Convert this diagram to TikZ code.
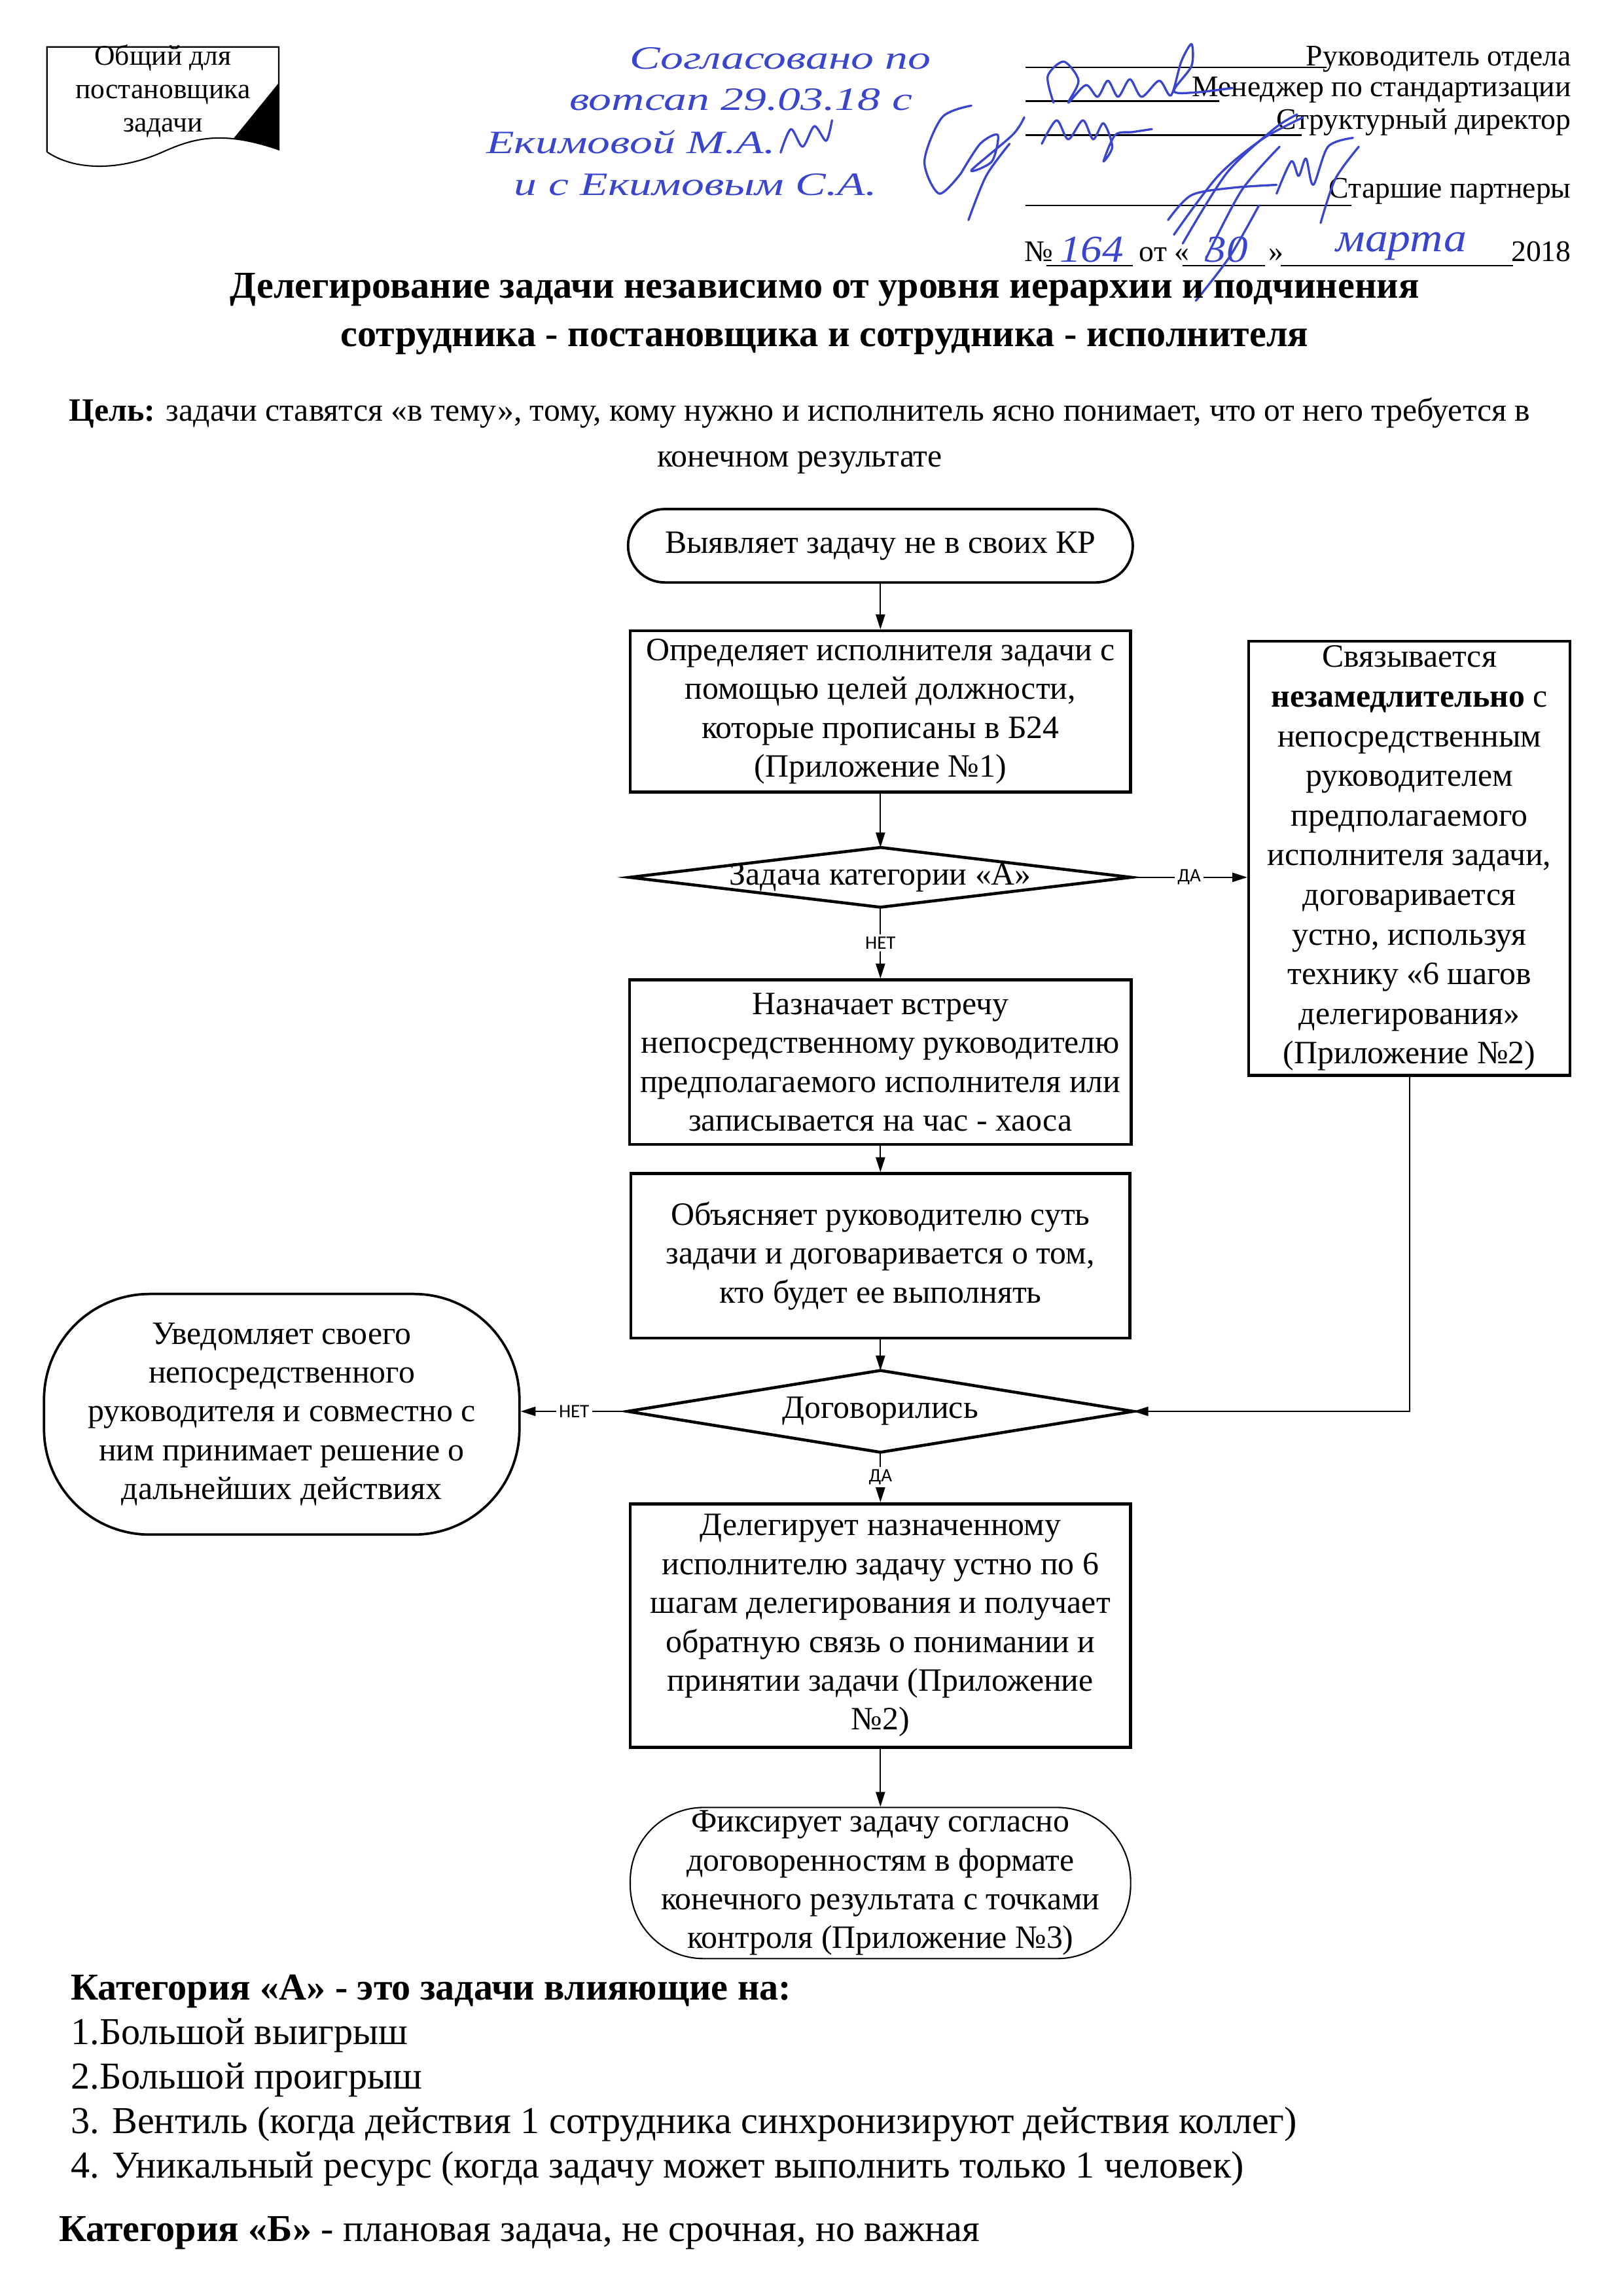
\documentclass[tikz,border=0pt]{standalone}
\usepackage{fontspec}
\setmainfont{Liberation Serif}
\newfontfamily\labelfont{Carlito}
\usetikzlibrary{positioning}
\usetikzlibrary{arrows.meta}
\usetikzlibrary{calc}
\tikzset{
  >={Triangle[length=5.5pt,width=3.4pt]}
}
\def\pxu{0.018987cm}

\begin{document}
\begin{tikzpicture}[x=0.018987cm,y=-0.018987cm]

            \useasboundingbox (0,0) rectangle (1106,1565);

            % COLORS
            \definecolor{edgecolor_flow}{rgb}{ 0 0 0 }
            \definecolor{inkcolor_sign}{rgb}{ 0.22 0.27 0.80 }

            % DEF STYLES
            \tikzstyle{boxstyle_flow} = [draw, line width=1.1pt, align=center, inner sep=0pt, font=\fontsize{12}{14.3}\selectfont]
            \tikzstyle{termstyle_flow} = [boxstyle_flow, rounded corners=25*\pxu]
            \tikzstyle{decisionstyle_flow} = [align=center, inner sep=0pt, font=\fontsize{12}{14.3}\selectfont]
            \tikzstyle{diamondline_flow} = [line width=1.1pt, line join=miter]
            \tikzstyle{edgestyle_flow} = [line width=0.5pt, color=edgecolor_flow]
            \tikzstyle{yesno_flow} = [fill=white, inner sep=1pt, font=\labelfont\fontsize{7}{8}\selectfont]
            \tikzstyle{ink_sign} = [line width=0.8pt, color=inkcolor_sign, line cap=round, line join=round]
            \tikzstyle{hand_sign} = [color=inkcolor_sign, inner sep=0pt, xscale=1.4, font=\itshape\fontsize{12}{12}\selectfont]
            \tikzstyle{post_sign} = [anchor=base east, inner sep=0pt, font=\fontsize{11}{13}\selectfont]

            % HEADER: DOCUMENT SHAPE
            \draw[line width=0.5pt] (32,103.5) -- (32,32) -- (190,32) -- (190,102)
              .. controls (150,88) and (130,95) .. (110,104)
              .. controls (80,117) and (50,116) .. (32,103.5);
            \fill (190,56.5) -- (159,94.6) -- (168,96) -- (180,99) -- (190,102) -- cycle;
            \node (doc_common) at (111,62) [align=center, inner sep=0pt, font=\fontsize{10.5}{12.2}\selectfont] {Общий для\\постановщика\\задачи};

            % HEADER: HANDWRITTEN NOTE
            \node (hand_1) at (532,40) [hand_sign] {Согласовано по};
            \node (hand_2) at (505,68) [hand_sign] {вотсап 29.03.18 с};
            \node (hand_3) at (430,97) [hand_sign] {Екимовой М.А.};
            \node (hand_4) at (474,126) [hand_sign] {и с Екимовым С.А.};

            % HEADER: POSTS
            \draw[line width=0.6pt] (699,46) -- (904,46);
            \node (post_1) at (1071,45) [post_sign] {Руководитель отдела};
            \draw[line width=0.6pt] (699,69) -- (831,69);
            \node (post_2) at (1071,66) [post_sign] {Менеджер по стандартизации};
            \draw[line width=0.6pt] (699,92) -- (887,92);
            \node (post_3) at (1071,88) [post_sign] {Структурный директор};
            \draw[line width=0.6pt] (699,140) -- (921,140);
            \node (post_4) at (1071,135) [post_sign] {Старшие партнеры};

            % HEADER: NUMBER AND DATE
            \node (num_sign) at (698,178) [anchor=base west, inner sep=0pt, font=\fontsize{11}{13}\selectfont] {№};
            \draw[line width=0.6pt] (713,181) -- (772,181);
            \node (num_from) at (776,178) [anchor=base west, inner sep=0pt, font=\fontsize{11}{13}\selectfont] {от «};
            \draw[line width=0.6pt] (806,181) -- (862,181);
            \node (num_quote) at (864,178) [anchor=base west, inner sep=0pt, font=\fontsize{11}{13}\selectfont] {»};
            \draw[line width=0.6pt] (873,181) -- (1031,181);
            \node (num_year) at (1071,178) [post_sign] {2018};
            \node (num_no) at (744,170) [hand_sign, xscale=0.8, font=\itshape\fontsize{14}{14}\selectfont] {164};
            \node (num_day) at (836,170) [hand_sign, xscale=0.8, font=\itshape\fontsize{14}{14}\selectfont] {30};
            \node (num_month) at (955,168) [hand_sign, xscale=0.8, font=\itshape\fontsize{15}{15}\selectfont] {марта};

            % HEADER: SIGNATURES
            \draw[ink_sign] plot[smooth] coordinates {(718,70) (714,52) (725,42) (735,55) (728,70) (740,58) (748,66) (755,55) (762,66) (770,54) (778,66) (790,55) (798,65) (805,42) (812,30) (812,45) (800,62) (815,63) (840,60)};
            \draw[ink_sign] plot[smooth] coordinates {(710,98) (720,82) (728,95) (738,82) (745,95) (752,84) (758,100) (752,110) (760,92) (772,90) (785,88)};
            \draw[ink_sign] plot[smooth] coordinates {(800,160) (830,120) (860,95) (888,80)};
            \draw[ink_sign] plot[smooth] coordinates {(796,150) (812,133) (840,128) (870,126)};
            \draw[ink_sign] plot[smooth] coordinates {(806,166) (836,118) (868,88) (884,78)};
            \draw[ink_sign] plot[smooth] coordinates {(822,176) (846,130) (872,100)};
            \draw[ink_sign] plot[smooth] coordinates {(858,140) (838,175) (815,205)};
            \draw[ink_sign] plot[smooth] coordinates {(870,132) (880,110) (885,120) (890,108) (895,126) (905,100) (922,94)};
            \draw[ink_sign] plot[smooth] coordinates {(900,152) (910,122) (926,100)};
            \draw[ink_sign] plot[smooth] coordinates {(662,72) (642,80) (630,110) (640,132) (655,118)};
            \draw[ink_sign] plot[smooth] coordinates {(655,118) (668,98) (680,92) (676,110) (662,116) (690,92) (698,80)};
            \draw[ink_sign] plot[smooth] coordinates {(660,150) (672,120) (688,98)};
            \draw[ink_sign] plot[smooth] coordinates {(532,104) (539,88) (547,100) (555,86) (563,96) (567,82)};

            % TITLE
            \node (title) at (562,214) [align=center, inner sep=0pt, font=\bfseries\fontsize{14}{17.8}\selectfont] {Делегирование задачи независимо от уровня иерархии и подчинения\\сотрудника - постановщика и сотрудника - исполнителя};
            \node (goal) at (545,297) [align=center, inner sep=0pt, font=\fontsize{12}{16.7}\selectfont] {\textbf{Цель:} задачи ставятся «в тему», тому, кому нужно и исполнитель ясно понимает, что от него требуется в\\конечном результате};

            % NODES
            \node (find) at (600,372) [termstyle_flow, line width=0.9pt, minimum width=344*\pxu, minimum height=50*\pxu] {Выявляет задачу не в своих КР};
            \node (define) at (600,485) [boxstyle_flow, minimum width=341*\pxu, minimum height=110*\pxu] {Определяет исполнителя задачи с\\помощью целей должности,\\которые прописаны в Б24\\(Приложение №1)};
            \node (catA) at (600,598) [decisionstyle_flow, minimum width=341*\pxu, minimum height=40*\pxu] {Задача категории «А»};
            \node (contact) at (960.5,585) [boxstyle_flow, minimum width=219*\pxu, minimum height=296*\pxu, font=\fontsize{12}{14.6}\selectfont] {Связывается\\\textbf{незамедлительно} с\\непосредственным\\руководителем\\предполагаемого\\исполнителя задачи,\\договаривается\\устно, используя\\технику «6 шагов\\делегирования»\\(Приложение №2)};
            \node (meet) at (600,724) [boxstyle_flow, minimum width=342*\pxu, minimum height=112*\pxu] {Назначает встречу\\непосредственному руководителю\\предполагаемого исполнителя или\\записывается на час - хаоса};
            \node (explain) at (600,856) [boxstyle_flow, minimum width=340*\pxu, minimum height=112*\pxu] {Объясняет руководителю суть\\задачи и договаривается о том,\\кто будет ее выполнять};
            \node (agreed) at (600,962) [decisionstyle_flow, minimum width=344*\pxu, minimum height=55*\pxu] {Договорились};
            \node (notify) at (192,964) [boxstyle_flow, line width=0.9pt, rounded corners=72*\pxu, minimum width=324*\pxu, minimum height=164*\pxu] {Уведомляет своего\\непосредственного\\руководителя и совместно с\\ним принимает решение о\\дальнейших действиях};
            \node (delegate) at (600,1108) [boxstyle_flow, minimum width=341*\pxu, minimum height=166*\pxu] {Делегирует назначенному\\исполнителю задачу устно по 6\\шагам делегирования и получает\\обратную связь о понимании и\\принятии задачи (Приложение\\№2)};
            \node (fix) at (600,1283.5) [boxstyle_flow, line width=0.5pt, rounded corners=50*\pxu, minimum width=341*\pxu, minimum height=103*\pxu] {Фиксирует задачу согласно\\договоренностям в формате\\конечного результата с точками\\контроля (Приложение №3)};

            % DIAMONDS
            \foreach \d in {catA,agreed} {
              \draw[diamondline_flow] (\d.west) -- (\d.north) -- (\d.east) -- (\d.south) -- cycle;
            }

            % EDGES
            \foreach \i/\k in {find/define,define/catA,meet/explain,explain/agreed,delegate/fix} {
              \draw[edgestyle_flow,->] (\i) -- (\k);
            }
            \draw[edgestyle_flow,->] (catA) -- node[yesno_flow] {НЕТ} (meet);
            \draw[edgestyle_flow,->] (catA.east) -- node[yesno_flow] {ДА} (contact.west |- catA.east);
            \draw[edgestyle_flow,->] (contact.south) |- (agreed.east);
            \draw[edgestyle_flow,->] (agreed.west) -- node[yesno_flow] {НЕТ} (notify.east |- agreed.west);
            \draw[edgestyle_flow,->] (agreed) -- node[yesno_flow] {ДА} (delegate);

            % NOTES
            \node (notes_A) at (48,1418) [anchor=west, align=left, inner sep=0pt, font=\fontsize{14}{16.4}\selectfont] {\textbf{Категория «А» - это задачи влияющие на:}\\1.Большой выигрыш\\2.Большой проигрыш\\3. Вентиль (когда действия 1 сотрудника синхронизируют действия коллег)\\4. Уникальный ресурс (когда задачу может выполнить только 1 человек)};
            \node (notes_B) at (40,1522) [anchor=west, inner sep=0pt, font=\fontsize{14}{16.4}\selectfont] {\textbf{Категория «Б»} - плановая задача, не срочная, но важная};

          \end{tikzpicture}
\end{document}
